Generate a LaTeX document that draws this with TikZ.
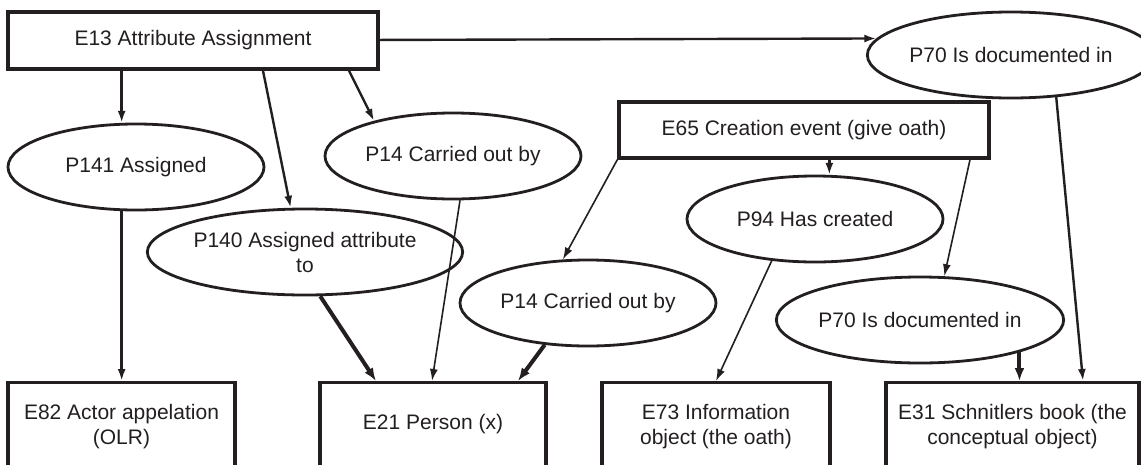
\documentclass[tikz,border=0pt]{standalone}
\usepackage{fontspec}
\setmainfont{Liberation Sans}
\usetikzlibrary{shapes.geometric,arrows.meta}
\definecolor{ink}{HTML}{231F20}
\begin{document}
\begin{tikzpicture}[x=1pt,y=-1pt,
  every node/.style={font=\fontsize{21}{25}\selectfont, text=ink, align=center},
  cls/.style={draw=ink, line width=3.4pt, rectangle, inner sep=0pt},
  bottombox/.style={cls, minimum height=88pt, anchor=north},
  prop/.style={draw=ink, line width=2.8pt, ellipse, inner sep=0pt,
               minimum width=256pt, minimum height=86pt},
  link/.style={draw=ink, line width=2.4pt, -{Latex[length=12pt,width=8pt]}},
  thinlink/.style={link, line width=1.6pt},
  thicklink/.style={link, line width=4pt, -{Latex[length=13pt,width=10pt]}}]

\useasboundingbox (0,0) rectangle (1141,464);
\fill[white] (0,0) rectangle (1141,464);

% event classes
\node[cls, minimum width=370pt, minimum height=57pt] (e13) at (193,40.5) {E13 Attribute Assignment};
\node[cls, minimum width=370pt, minimum height=56pt] (e65) at (804,130) {E65 Creation event (give oath)};

% properties
\node[prop] (p70a) at (1011,55)  {P70 Is documented in};
\node[prop] (p141) at (136,167)  {P141 Assigned};
\node[prop] (p14a) at (453,156)  {P14 Carried out by};
\node[prop] (p140) at (305,252)  {P140 Assigned attribute\\to};
\node[prop] (p14b) at (588,303)  {P14 Carried out by};
\node[prop] (p94)  at (815,219)  {P94 Has created};
\node[prop] (p70b) at (920,320)  {P70 Is documented in};

% target classes
\node[bottombox, minimum width=227pt] (e82) at (121.5,381) {E82 Actor appelation\\(OLR)};
\node[bottombox, minimum width=226pt] (e21) at (433,381)   {\raisebox{10pt}{E21 Person (x)}};
\node[bottombox, minimum width=228pt] (e73) at (716,381)   {E73 Information\\object (the oath)};
\node[bottombox, minimum width=253pt] (e31) at (1012.5,381){E31 Schnitlers book (the\\conceptual object)};

% links from E13
\draw[link] (e13) -- (p70a.173);
\draw[link] (e13.south -| p141.108) -- (p141.108);
\draw[link] ([xshift=70pt]e13.south) -- (p140.108);
\draw[link] ([xshift=156pt]e13.south) -- (p14a.156);

% links from E65
\draw[thinlink] (e65.south west) -- (p14b.120);
\draw[link] (p94.72 |- e65.south) -- (p94.72);
\draw[thinlink] ([xshift=166pt]e65.south) -- (p70b.61);

% links into the range classes
\draw[link] (p141.252) -- (p141.252 |- e82.north);
\draw[thicklink] (p140.289) -- ([xshift=-57pt]e21.north);
\draw[thinlink] (p14a.279) -- ([xshift=-1pt]e21.north);
\draw[thicklink] (p14b.224) -- ([xshift=85pt]e21.north);
\draw[thinlink] (p94.224) -- (e73.north);
\draw[thicklink] (p70b.342) -- (p70b.342 |- e31.north);
\draw[link] (p70a.317) -- ([xshift=70.5pt]e31.north);
\end{tikzpicture}
\end{document}
